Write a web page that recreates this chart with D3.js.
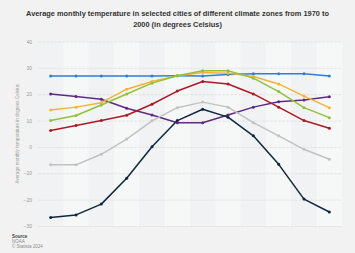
<!DOCTYPE html>
<html><head><meta charset="utf-8">
<script src="https://cdn.jsdelivr.net/npm/d3@7"></script>
<style>html,body{margin:0;padding:0;background:#f2f2f2;}svg{display:block;}</style>
</head><body>
<svg id="c" width="355" height="253"></svg>
<script>
const months = ["Jan","Feb","Mar","Apr","May","Jun","Jul","Aug","Sep","Oct","Nov","Dec"];
const yTicks = [-30,-20,-10,0,10,20,30,40];
const tropical = [26.9,26.9,26.9,26.9,26.9,27.0,26.9,27.5,27.8,27.8,27.8,26.9];
const southern = [20.1,19.1,18.1,14.7,12.1,9.2,9.2,12.1,15.1,17.1,17.8,19.0];
const subtropical = [14.0,15.1,16.8,21.9,24.8,27.0,28.2,28.0,26.7,23.9,19.3,14.9];
const mediterranean = [10.0,11.9,15.9,20.1,24.2,27.0,28.9,28.9,26.1,21.0,14.9,11.1];
const temperate = [6.2,8.1,10.0,12.0,16.2,21.2,24.8,23.9,20.1,15.1,10.0,7.1];
const continental = [-6.8,-6.8,-2.8,3.0,9.9,14.9,17.0,15.1,9.2,4.2,-0.9,-4.7];
const subarctic = [-26.8,-25.8,-21.7,-11.9,0.1,10.0,14.3,11.3,4.2,-6.6,-19.8,-24.7];
const seriesColors = ["#2e7fd6","#5e2a84","#f3b436","#92c13b","#ad1a27","#c2c2c2","#10283f"];
const series = [tropical, southern, subtropical, mediterranean, temperate, continental, subarctic];
const titleLines = ["Average monthly temperature in selected cities of different climate zones from 1970 to","2000 (in degrees Celsius)"];
const yTitle = "Average monthly temperature in degrees Celsius";
const sourceLines = ["Source","NOAA","© Statista 2024"];

const svg = d3.select("#c");
const x0 = 38, x1 = 342, yTop = 41.5, yBot = 226;
const xb = d3.scaleBand().domain(months).range([x0, x1]).padding(0);
const x = m => xb(m) + xb.bandwidth()/2;
const y = d3.scaleLinear().domain([-30,40]).range([yBot, yTop]);

// bands
svg.append("g").selectAll("rect").data(months).join("rect")
  .attr("x", d => xb(d)).attr("y", yTop).attr("width", xb.bandwidth()).attr("height", yBot - yTop)
  .attr("fill", (d,i) => i % 2 ? "#f6f7f7" : "#f1f2f3");

// grid + labels
const yAxis = d3.axisLeft(y).tickValues(yTicks).tickSize(-(x1 - x0)).tickPadding(6);
const gy = svg.append("g").attr("transform", `translate(${x0},0)`).call(yAxis);
gy.select(".domain").remove();
gy.selectAll(".tick line").attr("stroke", "#dcdcdc").attr("stroke-width", 0.7).attr("stroke-dasharray","3,1");
gy.selectAll(".tick text").attr("fill", "#999").attr("font-size", 5).attr("font-family", "Liberation Sans, Arial, sans-serif");

// y title
svg.append("text").attr("transform", `translate(19,${(yTop+yBot)/2}) rotate(-90)`)
  .attr("text-anchor","middle").attr("font-size",4.6).attr("fill","#999")
  .attr("font-family","Liberation Sans, Arial, sans-serif").text(yTitle);

// lines
const line = d3.line().x((d,i) => x(months[i])).y(d => y(d));
series.forEach((s, k) => {
  const g = svg.append("g");
  g.append("path").attr("d", line(s)).attr("fill","none").attr("stroke", seriesColors[k])
    .attr("stroke-width", 1.5).attr("stroke-linejoin","round");
  g.selectAll("circle").data(s).join("circle")
    .attr("cx", (d,i) => x(months[i])).attr("cy", d => y(d)).attr("r", 1.5).attr("fill", seriesColors[k]);
});

// title
svg.append("g").selectAll("text").data(titleLines).join("text")
  .attr("x", 177.5).attr("y", (d,i) => 15.8 + i*11.5).attr("text-anchor","middle")
  .attr("font-size", 7.4).attr("font-weight","bold").attr("fill","#333")
  .attr("font-family","Liberation Sans, Arial, sans-serif").text(d => d);

// source
svg.append("g").selectAll("text").data(sourceLines).join("text")
  .attr("x", 12).attr("y", (d,i) => 237.5 + i*5.3)
  .attr("font-size", 4.5).attr("fill", (d,i) => i === 0 ? "#444" : "#8a8a8a")
  .attr("font-weight", (d,i) => i === 0 ? "bold" : "normal")
  .attr("font-family","Liberation Sans, Arial, sans-serif").text(d => d);
</script>
</body></html>
